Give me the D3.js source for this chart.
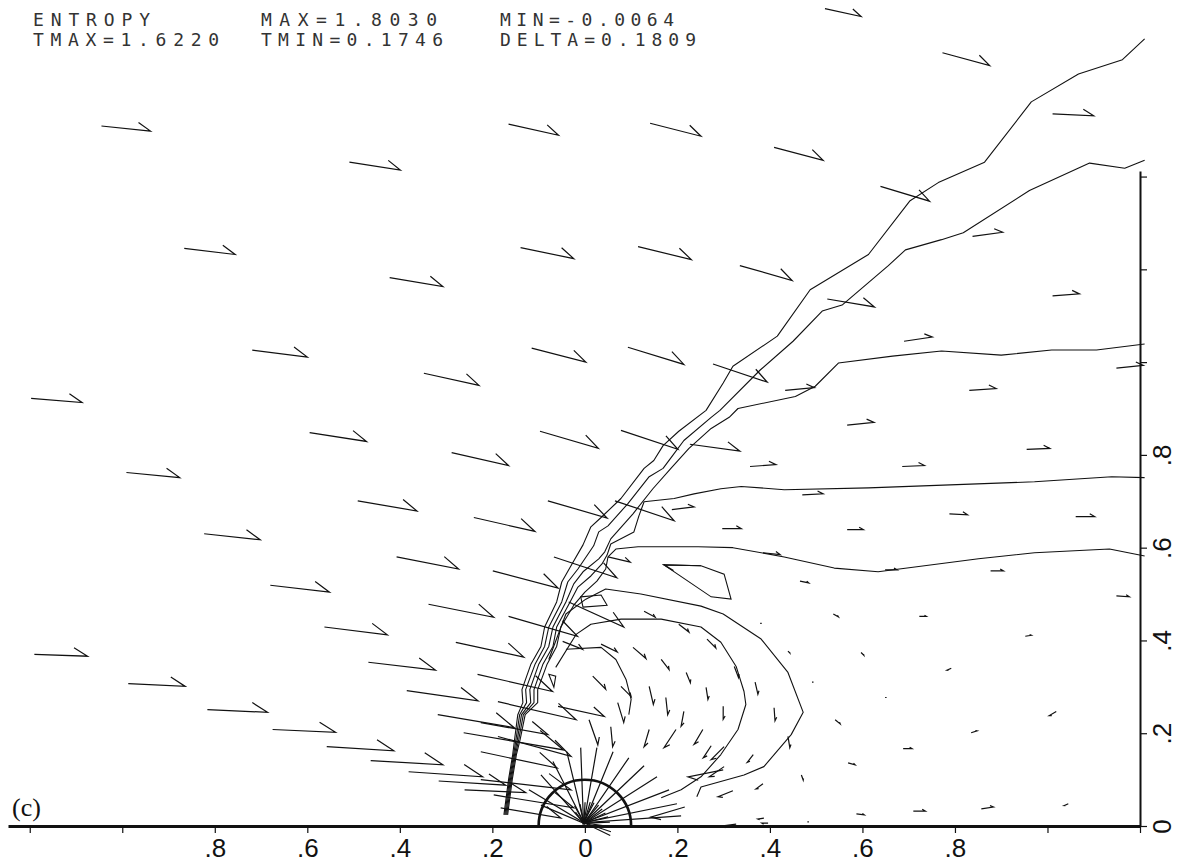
<!DOCTYPE html>
<html>
<head>
<meta charset="utf-8">
<script src="https://cdn.jsdelivr.net/npm/d3@7"></script>
<style>
  body { margin: 0; background: #fff; }
</style>
</head>
<body>
<div id="graph"></div>
<script>
// header block printed by the plotter
const headerCol1 = ["ENTROPY", "TMAX=1.6220"];
const headerCol2 = ["MAX=1.8030", "TMIN=0.1746"];
const headerCol3 = ["MIN=-0.0064", "DELTA=0.1809"];
const panelLabel = "(c)";

// axis ticks
const xTicks = [-1.2, -1.0, -0.8, -0.6, -0.4, -0.2, 0, 0.2, 0.4, 0.6, 0.8, 1.0, 1.2];
const xLabelled = [-0.8, -0.6, -0.4, -0.2, 0, 0.2, 0.4, 0.6, 0.8];
const yTicks = [0, 0.2, 0.4, 0.6, 0.8, 1.0, 1.2, 1.4];
const yLabelled = [0, 0.2, 0.4, 0.6, 0.8];
const bodyRadius = 0.1;

// velocity vectors [x, y, u, v]
const outerArrows = [
  [0.519,1.762,0.078,-0.017],[0.773,1.667,0.102,-0.028],[-1.045,1.509,0.106,-0.011],
  [-0.165,1.513,0.108,-0.024],[0.141,1.515,0.110,-0.028],[1.011,1.535,0.089,-0.004],
  [-0.509,1.431,0.110,-0.017],[0.409,1.463,0.106,-0.028],[0.639,1.379,0.106,-0.032],
  [0.838,1.271,0.065,0.009],[-0.866,1.245,0.110,-0.013],[-0.139,1.247,0.115,-0.024],
  [0.115,1.249,0.115,-0.028],[0.335,1.208,0.113,-0.032],[-0.422,1.182,0.115,-0.019],
  [1.011,1.143,0.058,0.004],[0.524,1.136,0.102,-0.017],[-0.719,1.026,0.119,-0.015],
  [0.690,1.045,0.061,0.009],[-0.115,1.030,0.117,-0.030],[0.093,1.032,0.121,-0.037],
  [0.277,0.996,0.117,-0.039],[-0.348,0.976,0.119,-0.026],[0.433,0.939,0.063,0.006],
  [0.831,0.939,0.058,0.004],[1.149,0.987,0.058,0.006],[-1.197,0.922,0.110,-0.009],
  [-0.595,0.848,0.123,-0.019],[-0.097,0.851,0.126,-0.037],[0.078,0.853,0.123,-0.041],
  [0.567,0.864,0.058,0.006],[-0.288,0.805,0.123,-0.028],[0.227,0.823,0.108,-0.015],
  [0.955,0.812,0.050,0.002],[-0.991,0.762,0.115,-0.011],[0.357,0.775,0.056,0.004],
  [0.686,0.775,0.048,0.002],[0.470,0.714,0.045,0.002],[-0.491,0.701,0.128,-0.022],
  [-0.080,0.701,0.128,-0.037],[0.065,0.701,0.128,-0.043],[0.188,0.682,0.048,0.006],
  [0.788,0.673,0.039,-0.002],[1.061,0.667,0.041,0],[-0.240,0.665,0.132,-0.030],
  [-0.823,0.630,0.121,-0.013],[0.297,0.641,0.041,0],[0.567,0.639,0.035,0],
  [0.385,0.589,0.037,-0.004],[-0.407,0.580,0.134,-0.026],[-0.067,0.580,0.136,-0.045],
  [0.050,0.580,0.048,-0.011],[0.649,0.552,0.026,0],[0.877,0.550,0.028,0],
  [-0.199,0.550,0.141,-0.037],[-0.680,0.519,0.128,-0.015],[1.149,0.496,0.028,-0.002],
  [0.465,0.528,0.019,-0.004],[0.251,0.561,-0.080,0.002]
];

const layerArrows = [
  [-0.338,0.478,0.141,-0.028],[-0.165,0.452,0.149,-0.043],[-0.035,0.483,0.119,-0.054],
  [0.128,0.463,0.024,-0.013],[0.203,0.435,0.022,-0.017],[0.537,0.457,0.011,-0.006],
  [0.723,0.452,0.015,0],[0.952,0.409,0.013,0.002],[-0.563,0.429,0.136,-0.017],
  [-0.279,0.396,0.147,-0.032],[-0.048,0.398,0.043,-0.017],[0.035,0.392,0.035,-0.017],
  [0.104,0.385,0.028,-0.024],[0.264,0.403,0.019,-0.019],[-1.190,0.370,0.115,-0.004],
  [-0.468,0.353,0.145,-0.017],[0.165,0.359,0.017,-0.022],[0.323,0.344,0.009,-0.024],
  [0.219,0.331,0.009,-0.022],[-0.232,0.327,0.162,-0.037],[-0.987,0.307,0.123,-0.006],
  [0.368,0.310,0.006,-0.026],[0.262,0.299,0.004,-0.026],[-0.385,0.292,0.154,-0.022],
  [0.017,0.323,0.028,-0.028],[0.078,0.301,0.022,-0.022],[0.139,0.301,0.009,-0.039],
  [-0.188,0.268,0.169,-0.039],[-0.058,0.258,0.100,-0.022],[0.175,0.277,0.004,-0.037],
  [0.214,0.247,-0.006,-0.032],[0.299,0.258,0,-0.028],[0.409,0.255,0.002,-0.028],
  [-0.318,0.240,0.165,-0.028],[-0.816,0.251,0.130,-0.006],[0.071,0.266,0.013,-0.043],
  [0.009,0.229,0.019,-0.054],[0.056,0.214,0.004,-0.043],[0.139,0.208,-0.011,-0.037],
  [0.197,0.208,-0.026,-0.039],[0.255,0.208,-0.019,-0.032],[-0.262,0.201,0.216,-0.037],
  [-0.675,0.208,0.136,-0.006],[-0.558,0.171,0.145,-0.009],[0.439,0.193,0.004,-0.024],
  [0.273,0.173,-0.017,-0.026],[0.364,0.154,-0.013,-0.017],[0.301,0.171,-0.028,-0.028],
  [1.019,0.247,-0.015,-0.009],[0.835,0.201,0.013,0.004],[0.688,0.167,0.019,0],
  [0.569,0.136,0.015,-0.004],[-0.463,0.141,0.156,-0.009],[-0.381,0.117,0.160,-0.011],
  [-0.316,0.097,0.145,-0.009],[-0.260,0.078,0.132,-0.006],[-0.225,0.223,0.145,-0.026],
  [-0.188,0.193,0.158,-0.043],[-0.225,0.160,0.165,-0.035],[-0.225,0.100,0.195,-0.022],
  [-0.197,0.067,0.173,-0.028],[-0.182,0.039,0.130,-0.022],[0.301,0.128,-0.032,-0.022],
  [0.385,0.091,-0.015,-0.011],[0.320,0.076,-0.032,-0.013],[0.299,0.121,-0.076,-0.015],
  [0.468,0.110,0.004,-0.011],[1.045,0.048,-0.009,-0.004],[0.857,0.037,0.026,0.004],
  [0.710,0.032,0.026,0],[0.587,0.026,0.017,-0.002],[0.387,0.017,-0.013,-0.002],
  [0.216,0.041,-0.074,-0.022],[0.327,0.004,-0.032,-0.004],[0.396,0.006,-0.013,0],
  [0.379,0.437,0.004,-0.002],[0.439,0.377,0.004,-0.004],[0.491,0.310,0.004,-0.002],
  [0.649,0.277,0.004,0],[0.597,0.374,0.006,-0.006],[0.792,0.340,-0.009,-0.004],
  [0.541,0.229,0.011,-0.009],[0.481,0.009,0.004,0]
];

// vectors converging on the stagnation point
const fanArrows = [
  [-0.121,0.078,0.119,-0.071],[-0.095,0.110,0.093,-0.104],[-0.069,0.139,0.067,-0.132],
  [-0.039,0.160,0.037,-0.154],[-0.009,0.169,0.006,-0.162],[0.026,0.169,-0.028,-0.162],
  [0.061,0.160,-0.063,-0.154],[0.095,0.147,-0.097,-0.141],[0.128,0.130,-0.130,-0.123],
  [0.156,0.106,-0.158,-0.100],[0.182,0.078,-0.184,-0.071],[0.199,0.048,-0.201,-0.041],
  [0.208,0.022,-0.210,-0.015],[-0.095,0.045,0.093,-0.039]
];

// entropy contours
const contour1 = [[-0.175,0.024],[-0.165,0.100],[-0.156,0.154],[-0.152,0.186],[-0.145,0.240],[-0.134,0.266],[-0.136,0.294],[-0.117,0.348],[-0.095,0.387],[-0.087,0.429],[-0.061,0.483],[-0.050,0.526],[-0.030,0.561],[-0.004,0.606],[0.013,0.645],[0.035,0.665],[0.078,0.706],[0.128,0.771],[0.149,0.788],[0.169,0.820],[0.203,0.851],[0.262,0.896],[0.299,0.955],[0.320,0.991],[0.416,1.056],[0.487,1.156],[0.613,1.232],[0.703,1.348],[0.764,1.387],[0.864,1.431],[0.965,1.561],[1.067,1.621],[1.162,1.652],[1.210,1.697]];
const contour2 = [[-0.173,0.024],[-0.163,0.100],[-0.154,0.154],[-0.149,0.186],[-0.141,0.240],[-0.126,0.266],[-0.128,0.294],[-0.108,0.348],[-0.087,0.387],[-0.078,0.429],[-0.050,0.483],[-0.037,0.526],[-0.015,0.554],[0.019,0.604],[0.030,0.634],[0.050,0.647],[0.093,0.695],[0.139,0.753],[0.169,0.771],[0.190,0.799],[0.214,0.831],[0.273,0.881],[0.292,0.896],[0.379,0.983],[0.450,1.045],[0.513,1.110],[0.556,1.123],[0.656,1.208],[0.693,1.242],[0.771,1.264],[0.818,1.279],[0.961,1.370],[1.091,1.429],[1.167,1.418],[1.210,1.435]];
const contour3 = [[-0.171,0.024],[-0.161,0.100],[-0.152,0.154],[-0.146,0.186],[-0.137,0.240],[-0.117,0.266],[-0.119,0.294],[-0.100,0.348],[-0.078,0.387],[-0.069,0.429],[-0.041,0.483],[-0.024,0.522],[-0.004,0.548],[0.030,0.576],[0.043,0.591],[0.056,0.619],[0.104,0.673],[0.147,0.727],[0.186,0.771],[0.225,0.814],[0.273,0.857],[0.312,0.881],[0.331,0.900],[0.455,0.926],[0.498,0.948],[0.548,0.998],[0.665,1.013],[0.771,1.024],[0.900,1.015],[1.009,1.026],[1.106,1.026],[1.210,1.039]];
const contour4 = [[-0.169,0.024],[-0.159,0.100],[-0.150,0.154],[-0.143,0.186],[-0.133,0.240],[-0.110,0.266],[-0.110,0.294],[-0.091,0.348],[-0.069,0.387],[-0.061,0.429],[-0.032,0.483],[-0.015,0.515],[0.013,0.539],[0.037,0.565],[0.048,0.584],[0.056,0.608],[0.106,0.634],[0.117,0.669],[0.128,0.699],[0.193,0.706],[0.236,0.716],[0.294,0.727],[0.338,0.732],[0.431,0.725],[0.613,0.729],[0.972,0.742],[1.139,0.753],[1.210,0.751]];
const contour5 = [[-0.167,0.024],[-0.157,0.100],[-0.148,0.154],[-0.140,0.186],[-0.129,0.240],[-0.102,0.266],[-0.102,0.294],[-0.082,0.348],[-0.061,0.387],[-0.052,0.429],[-0.024,0.476],[0.000,0.504],[0.026,0.528],[0.045,0.554],[0.050,0.580],[0.067,0.597],[0.115,0.602],[0.245,0.602],[0.320,0.600],[0.431,0.580],[0.539,0.556],[0.634,0.548],[0.851,0.576],[0.972,0.589],[1.134,0.597],[1.210,0.582]];
const contour6 = [[-0.078,0.359],[-0.041,0.457],[0.002,0.489],[0.045,0.511],[0.121,0.500],[0.251,0.474],[0.299,0.457],[0.381,0.403],[0.439,0.331],[0.472,0.245],[0.446,0.197],[0.387,0.128],[0.344,0.110],[0.251,0.084],[0.242,0.063]];
const contour7 = [[-0.063,0.342],[-0.019,0.413],[0.013,0.435],[0.078,0.446],[0.165,0.446],[0.251,0.429],[0.294,0.396],[0.327,0.344],[0.344,0.290],[0.348,0.262],[0.331,0.208],[0.294,0.154],[0.251,0.106],[0.208,0.078],[0.165,0.061]];
const contour8 = [[-0.041,0.381],[0.035,0.385],[0.067,0.359],[0.089,0.316],[0.100,0.273],[0.095,0.240]];
const island1 = [[0.171,0.563],[0.251,0.561],[0.301,0.543],[0.316,0.489],[0.273,0.494]];
const island2 = [[-0.009,0.494],[0.035,0.498],[0.048,0.476],[-0.004,0.472]];
const island3 = [[-0.078,0.327],[-0.063,0.323],[-0.067,0.299]];

const contours = [contour1, contour2, contour3, contour4, contour5, contour6, contour7, contour8];
const islands = [island1, island2, island3];

// drawing
const width = 1186, height = 863;
const ink = "#111";

const x = d3.scaleLinear().domain([-1.247, 1.2]).range([8, 1140]);
const y = d3.scaleLinear().domain([0, 1.412]).range([826, 171]);

const svg = d3.select("#graph").append("svg")
  .attr("width", width)
  .attr("height", height)
  .style("font-family", "'DejaVu Sans', sans-serif");

// contour lines
const line = d3.line().x(d => x(d[0])).y(d => y(d[1]));
svg.append("g")
  .selectAll("path")
  .data(contours)
  .join("path")
    .attr("fill", "none")
    .attr("stroke", ink)
    .attr("stroke-width", 1.1)
    .attr("stroke-linejoin", "round")
    .attr("d", line);

const closed = d3.line().x(d => x(d[0])).y(d => y(d[1])).curve(d3.curveLinearClosed);
svg.append("g")
  .selectAll("path")
  .data(islands)
  .join("path")
    .attr("fill", "none")
    .attr("stroke", ink)
    .attr("stroke-width", 1.1)
    .attr("d", closed);

// half-headed arrows, barb on the left of the direction of travel
function arrowPath(d) {
  const x0 = x(d[0]), y0 = y(d[1]);
  const x1 = x(d[0] + d[2]), y1 = y(d[1] + d[3]);
  const dx = x1 - x0, dy = y1 - y0;
  const len = Math.hypot(dx, dy);
  if (len < 2.5) return `M${x0},${y0}L${x0 + 1.5},${y0}`;
  const b = 0.3 * len, a = Math.PI / 6;
  const rx = -dx / len, ry = -dy / len;
  const bx = x1 + b * (rx * Math.cos(a) - ry * Math.sin(a));
  const by = y1 + b * (rx * Math.sin(a) + ry * Math.cos(a));
  return `M${x0},${y0}L${x1},${y1}L${bx},${by}`;
}

svg.append("g")
  .selectAll("path")
  .data(outerArrows.concat(layerArrows, fanArrows))
  .join("path")
    .attr("fill", "none")
    .attr("stroke", ink)
    .attr("stroke-width", 1.2)
    .attr("d", arrowPath);

// body: hemisphere of radius 0.1 sitting on the axis
const r = x(bodyRadius) - x(0);
svg.append("path")
  .attr("fill", "none")
  .attr("stroke", ink)
  .attr("stroke-width", 2.6)
  .attr("d", `M${x(-bodyRadius)},${y(0)}A${r},${r} 0 0 1 ${x(bodyRadius)},${y(0)}`);

// axes
const fmt = d => xLabelled.includes(d) ? (d === 0 ? "0" : String(Math.abs(d)).replace(/^0/, "")) : "";

const xAxis = svg.append("g")
  .attr("transform", `translate(0,${y(0)})`)
  .call(d3.axisBottom(x).tickValues(xTicks).tickFormat(fmt).tickSize(7).tickSizeOuter(0));
xAxis.select(".domain").attr("stroke", ink).attr("stroke-width", 3);
xAxis.selectAll(".tick line").attr("stroke", ink).attr("stroke-width", 1.2);
xAxis.selectAll(".tick text")
  .attr("y", 31).attr("dy", 0)
  .attr("fill", ink)
  .style("font-family", "'Liberation Sans', Arial, sans-serif")
  .style("font-size", "26px");

const yFmt = d => yLabelled.includes(d) ? (d === 0 ? "0" : String(d).replace(/^0/, "")) : "";
const yAxis = svg.append("g")
  .attr("transform", `translate(${x(1.2)},0)`)
  .call(d3.axisRight(y).tickValues(yTicks).tickFormat(yFmt).tickSize(7).tickSizeOuter(0));
yAxis.select(".domain").attr("stroke", ink).attr("stroke-width", 2);
yAxis.selectAll(".tick line").attr("stroke", ink).attr("stroke-width", 1.2);
yAxis.selectAll(".tick text")
  .attr("x", 0).attr("dy", 0)
  .attr("text-anchor", "middle")
  .attr("transform", "translate(31,0) rotate(-90)")
  .attr("fill", ink)
  .style("font-family", "'Liberation Sans', Arial, sans-serif")
  .style("font-size", "26px");

// header text in a narrow plotter-like face with wide spacing
const headerStyle = g => g
  .attr("fill", "#333")
  .style("font-family", "'DejaVu Sans Mono', 'Liberation Mono', monospace")
  .style("font-size", "18px");

const columns = [
  {x: 33, rows: headerCol1, widths: [117, 186]},
  {x: 261, rows: headerCol2, widths: [176, 182]},
  {x: 500, rows: headerCol3, widths: [174, 196]}
];
columns.forEach(col => {
  col.rows.forEach((t, i) => {
    svg.append("text")
      .call(headerStyle)
      .attr("x", col.x)
      .attr("y", 26 + i * 19.5)
      .attr("textLength", col.widths[i])
      .attr("lengthAdjust", "spacing")
      .text(t);
  });
});

svg.append("text")
  .attr("x", 12)
  .attr("y", 816)
  .attr("fill", ink)
  .style("font-family", "'Liberation Serif', 'Times New Roman', serif")
  .style("font-size", "26px")
  .text(panelLabel);
</script>
</body>
</html>
